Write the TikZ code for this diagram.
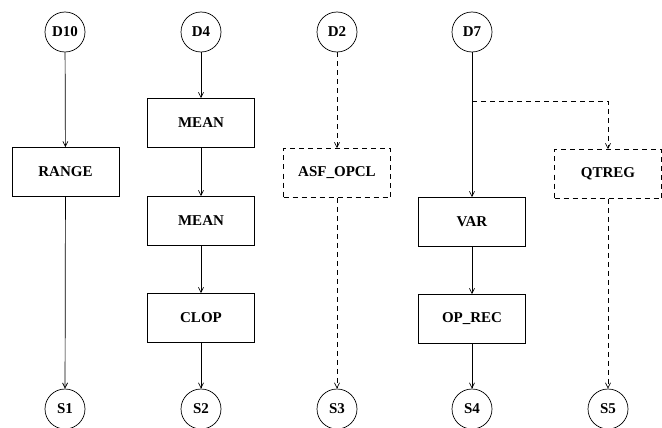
\documentclass[tikz,border=0pt]{standalone}
\usepackage{fontspec}
\setmainfont{Liberation Serif}
\usetikzlibrary{arrows.meta}
\begin{document}
\begin{tikzpicture}[x=1pt,y=-1pt,
  every node/.style={font=\fontsize{15}{18}\selectfont\bfseries, line width=0.7pt},
  term/.style={draw, circle, minimum size=40pt, inner sep=0pt},
  opbox/.style={draw, rectangle, minimum width=107pt, minimum height=49pt, inner sep=0pt},
  dashbox/.style={opbox, dash pattern=on 5pt off 4pt},
  conn/.style={line width=0.7pt, -{Straight Barb[length=5pt,width=5pt]}},
  dconn/.style={conn, dash pattern=on 5pt off 4pt}]
\useasboundingbox (0,0) rectangle (662,428);
% column 1
\node[term] (D10) at (65,32) {D10};
\node[opbox] (RANGE) at (65.5,172) {RANGE};
\node[term] (S1) at (65,409) {S1};
\draw[conn] (D10) -- (RANGE);
\draw[conn] (RANGE) -- (S1);
% column 2
\node[term] (D4) at (201,32) {D4};
\node[opbox] (MEAN1) at (201,123) {MEAN};
\node[opbox] (MEAN2) at (201,221) {MEAN};
\node[opbox] (CLOP) at (201,318) {CLOP};
\node[term] (S2) at (201,409) {S2};
\draw[conn] (D4) -- (MEAN1);
\draw[conn] (MEAN1) -- (MEAN2);
\draw[conn] (MEAN2) -- (CLOP);
\draw[conn] (CLOP) -- (S2);
% column 3
\node[term] (D2) at (337,32) {D2};
\node[dashbox] (ASF) at (337,173) {ASF\_OPCL};
\node[term] (S3) at (337,409) {S3};
\draw[dconn] (D2) -- (ASF);
\draw[dconn] (ASF) -- (S3);
% column 4
\node[term] (D7) at (472,32) {D7};
\node[opbox] (VAR) at (472,222) {VAR};
\node[opbox] (OPREC) at (472,319) {OP\_REC};
\node[term] (S4) at (472,409) {S4};
\draw[conn] (D7) -- (VAR);
\draw[conn] (VAR) -- (OPREC);
\draw[conn] (OPREC) -- (S4);
% column 5
\node[dashbox] (QTREG) at (608,174) {QTREG};
\node[term] (S5) at (608,409) {S5};
\coordinate (br) at (472,101);
\coordinate (brc) at (608,101);
\draw[dconn] (br) -- (brc) -- (QTREG);
\draw[dconn] (QTREG) -- (S5);
\end{tikzpicture}
\end{document}
